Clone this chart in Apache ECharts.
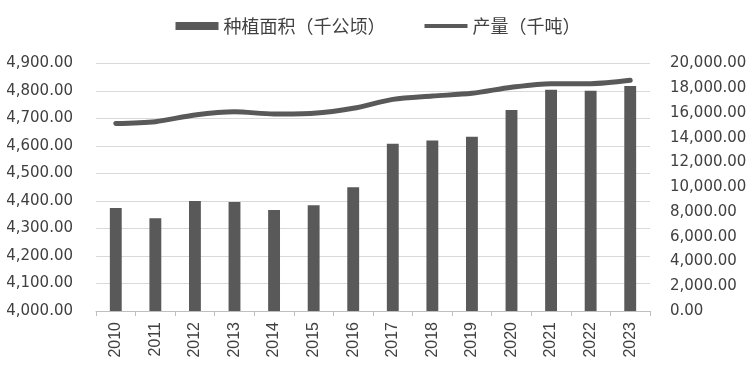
<!DOCTYPE html>
<html><head><meta charset="utf-8">
<script src="https://cdn.jsdelivr.net/npm/echarts@6/dist/echarts.min.js"></script>
<style>html,body{margin:0;padding:0;background:#fff}#c{width:756px;height:370px}</style>
</head><body><div id="c"></div>
<script>
const categories = ['2010','2011','2012','2013','2014','2015','2016','2017','2018','2019','2020','2021','2022','2023'];
const areaValues = [4375, 4337, 4400, 4396, 4367, 4385, 4450, 4608, 4620, 4634, 4731, 4805, 4801, 4818];
const outputValues = [15150, 15300, 15840, 16100, 15920, 15980, 16380, 17100, 17370, 17590, 18080, 18370, 18370, 18640];
const seriesNames = ['种植面积（千公顷）', '产量（千吨）'];

function fmt(v){
  return Number(v).toLocaleString('en-US',{minimumFractionDigits:2,maximumFractionDigits:2});
}
const txt = '#404040';
const chart = echarts.init(document.getElementById('c'), null, {renderer:'canvas'});
chart.setOption({
  animation:false,
  backgroundColor:'#fff',
  legend:{
    top:12, left:'center', itemGap:39,
    itemWidth:43, itemHeight:8,
    textStyle:{color:txt, fontSize:18, fontFamily:'"Noto Sans CJK SC", sans-serif'},
    data:[
      {name:seriesNames[0], icon:'rect'},
      {name:seriesNames[1], icon:'path://M0,0L0,0Z M0,2L43,2L43,6L0,6Z M43,8L43,8Z'}
    ]
  },
  grid:{left:96, right:106, top:63.5, bottom:59, containLabel:false},
  xAxis:{
    type:'category', data:categories, boundaryGap:true,
    axisLine:{lineStyle:{color:'#bfbfbf', width:1}},
    axisTick:{show:true, length:5, lineStyle:{color:'#bfbfbf'}},
    axisLabel:{rotate:90, color:txt, fontSize:16, margin:11, fontFamily:'"Liberation Sans", Arial, sans-serif'}
  },
  yAxis:[
    {type:'value', min:4000, max:4900, interval:100,
     axisLine:{show:false}, axisTick:{show:false},
     splitLine:{lineStyle:{color:'#d9d9d9', width:1}},
     axisLabel:{color:txt, fontSize:15, margin:23, formatter:fmt, fontFamily:'"DejaVu Sans", sans-serif'}},
    {type:'value', min:0, max:20000, interval:2000,
     axisLine:{show:false}, axisTick:{show:false}, splitLine:{show:false},
     axisLabel:{color:txt, fontSize:15, margin:20, formatter:fmt, fontFamily:'"DejaVu Sans", sans-serif'}}
  ],
  series:[
    {name:seriesNames[0], type:'bar', data:areaValues, yAxisIndex:0, barWidth:'30%',
     itemStyle:{color:'#595959'}},
    {name:seriesNames[1], type:'line', data:outputValues, yAxisIndex:1, smooth:0.3,
     symbol:'none', lineStyle:{color:'#595959', width:5, cap:'round'}, itemStyle:{color:'#595959'}}
  ]
});
</script></body></html>
